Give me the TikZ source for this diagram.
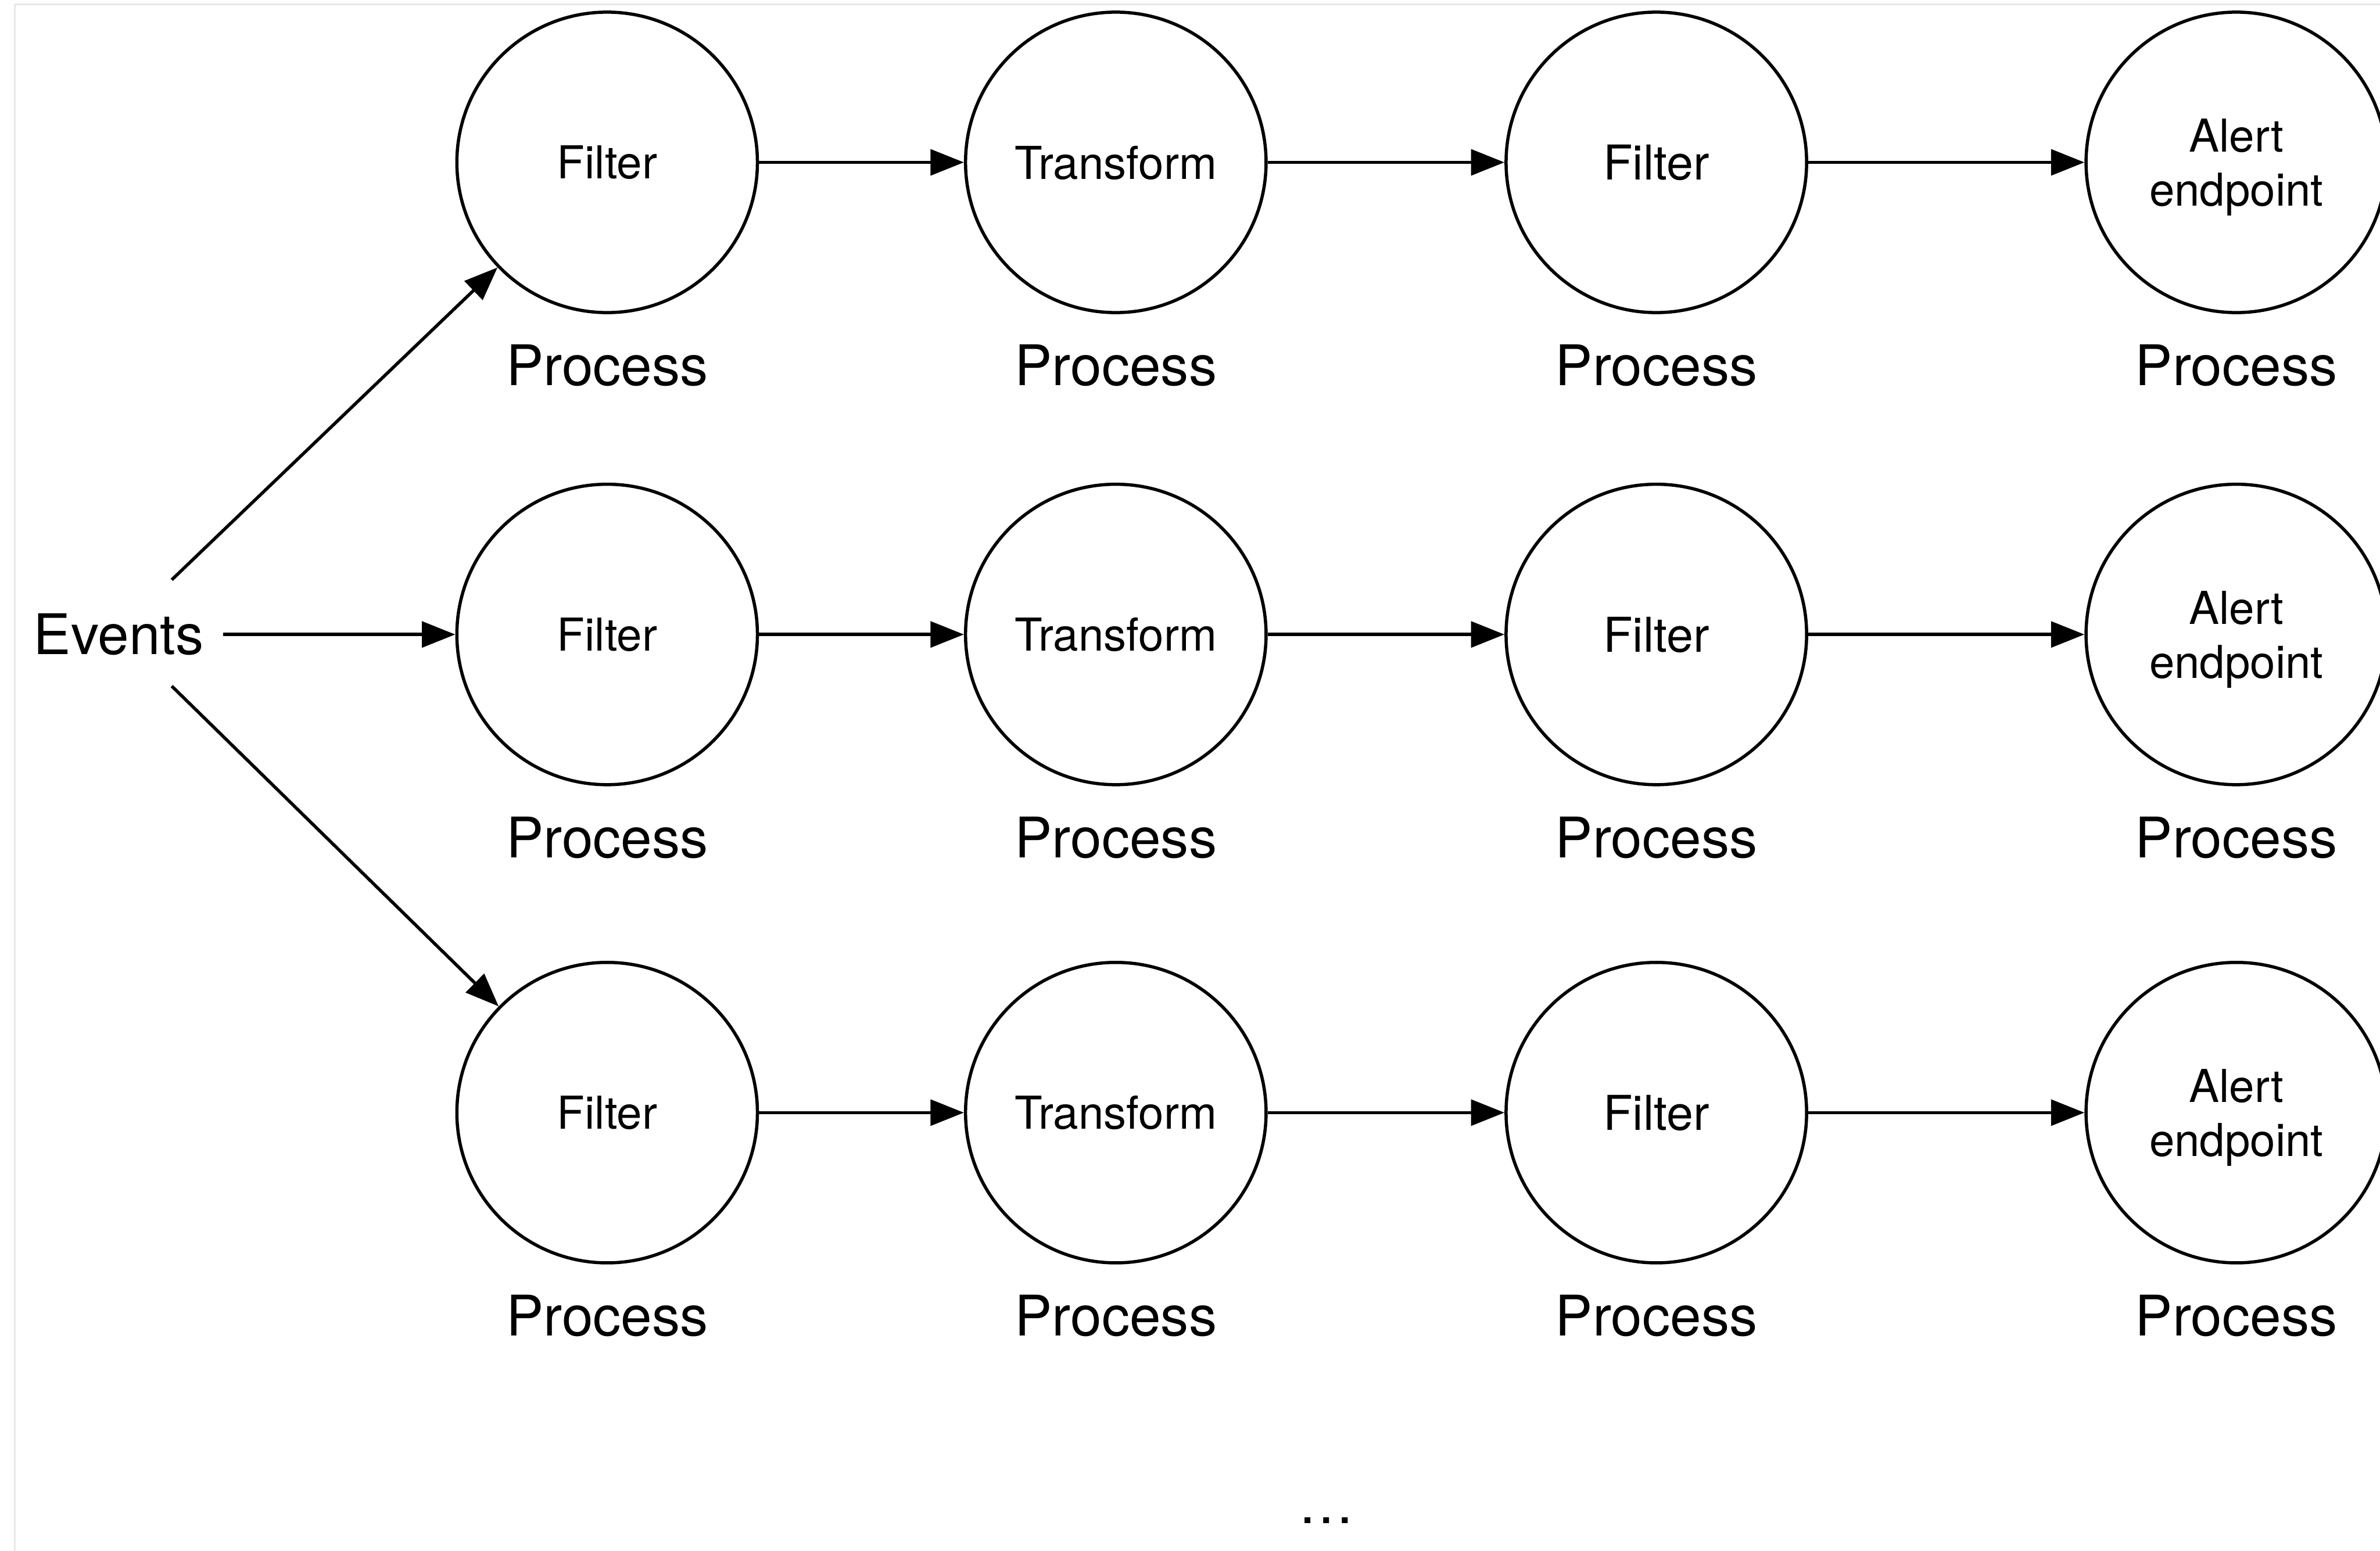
\documentclass[tikz,border=0pt]{standalone}
\usepackage{fontspec}
\setmainfont{TeX Gyre Heros}
\usepackage{tikz}
\usetikzlibrary{arrows.meta,positioning}

\begin{document}
\begin{tikzpicture}[
    line width=0.6pt,
    stage/.style={circle, draw, minimum size=1.98cm, inner sep=0pt, align=center,
        text depth=0pt, font=\fontsize{8.5}{10.1}\selectfont,
        label={[font=\fontsize{10.5}{12}\selectfont, label distance=2.1pt]below:Process}},
    big/.style={font=\fontsize{9}{10.5}\selectfont},
    arrow/.style={-{Triangle[length=2.2mm, width=1.7mm]}},
    frame/.style={draw=black!9, line width=0.3pt}
]
    \useasboundingbox (0,0) rectangle (15.68,-10.22);
    \draw[frame] (15.68,-0.03) -| (0.098,-10.22);

    % first row
    \node[stage] (fa1) at (4.00,-1.07) {Filter};
    \node[stage, right=1.35cm of fa1] (tr1) {Transform};
    \node[stage, big, right=1.56cm of tr1] (fb1) {Filter};
    \node[stage, right=1.82cm of fb1] (al1) {Alert\\endpoint};

    % second row
    \node[stage, below=1.11cm of fa1] (fa2) {Filter};
    \node[stage, below=1.11cm of tr1] (tr2) {Transform};
    \node[stage, big, below=1.11cm of fb1] (fb2) {Filter};
    \node[stage, below=1.11cm of al1] (al2) {Alert\\endpoint};

    % third row
    \node[stage, below=1.15cm of fa2] (fa3) {Filter};
    \node[stage, below=1.15cm of tr2] (tr3) {Transform};
    \node[stage, big, below=1.15cm of fb2] (fb3) {Filter};
    \node[stage, below=1.15cm of al2] (al3) {Alert\\endpoint};

    \node[font=\fontsize{10.5}{12}\selectfont, left=1.53cm of fa2] (events) {Events};
    \coordinate (evup) at ([shift={(0.35,0.36)}]events.center);
    \coordinate (evdown) at ([shift={(0.35,-0.34)}]events.center);

    \node[font=\fontsize{10.5}{12}\selectfont, inner sep=0pt] (more) at (8.74,-10.02) {…};

    \draw[arrow] (evup) -- (fa1);
    \draw[arrow] (events) -- (fa2);
    \draw[arrow] (evdown) -- (fa3);

    \draw[arrow] (fa1) -- (tr1);
    \draw[arrow] (tr1) -- (fb1);
    \draw[arrow] (fb1) -- (al1);
    \draw[arrow] (fa2) -- (tr2);
    \draw[arrow] (tr2) -- (fb2);
    \draw[arrow] (fb2) -- (al2);
    \draw[arrow] (fa3) -- (tr3);
    \draw[arrow] (tr3) -- (fb3);
    \draw[arrow] (fb3) -- (al3);
\end{tikzpicture}
\end{document}
